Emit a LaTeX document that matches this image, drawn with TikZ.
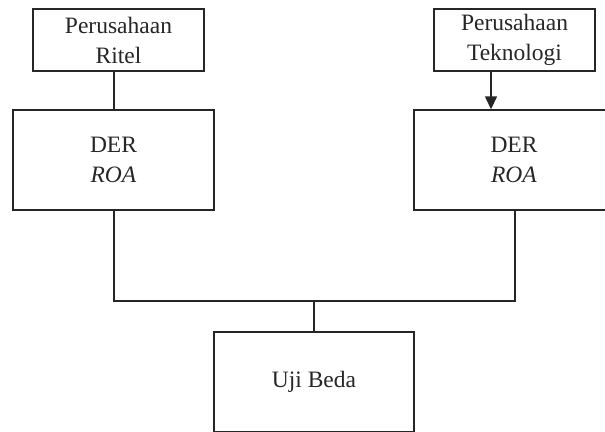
\documentclass[tikz,border=0pt]{standalone}
\usepackage{fontspec}
\setmainfont{Liberation Serif}
\usepackage{tikz}
\usetikzlibrary{positioning,arrows.meta}
\tikzset{
  % --- boxes -----------------------------------------------------------
  box/.style    ={draw=black!85, line width=1.4pt, align=center, inner sep=0pt,
                  text=black!85, font=\fontsize{23.5}{30}\selectfont},
  firm/.style   ={box, minimum height=62pt},
  var/.style    ={box, minimum width=200pt, minimum height=100pt},
  % --- connectors ------------------------------------------------------
  link/.style   ={line width=1.4pt, draw=black!85},
  arrow/.style  ={link, -{Triangle[length=13pt, width=12pt]}},
}

\begin{document}
\begin{tikzpicture}[x=1pt, y=-1pt]

  \useasboundingbox (0,0) rectangle (605,431);
  \clip (0,0) rectangle (605,431);

  % ============================ firms ============================
  \node[firm, minimum width=171pt] (ritel) at (118.5,40) {Perusahaan\\Ritel};
  \node[firm, minimum width=161pt] (tekno) at (514.5,40) {Perusahaan\\Teknologi};

  % ============================ variables ============================
  \node[var, minimum width=201pt] (derL) at (113.5,160) {DER\\\textit{ROA}};
  \node[var] (derR) at (514,160) {DER\\\textit{ROA}};

  % ============================ test ============================
  \node[var] (uji) at (314,382) {Uji Beda};
  \coordinate (join) at (314,301);

  % ============================ connectors ============================
  \draw[link] ([xshift=0.5pt]derL.north |- ritel.south) -- ([xshift=0.5pt]derL.north);
  \draw[arrow] ([xshift=-23.5pt]tekno.south) -- ([xshift=-23.5pt]tekno.south |- derR.north);
  \draw[link] ([xshift=0.5pt]derL.south) |- (join) -| ([xshift=1pt]derR.south);
  \draw[link] (join) -- (join |- uji.north);

\end{tikzpicture}
\end{document}
